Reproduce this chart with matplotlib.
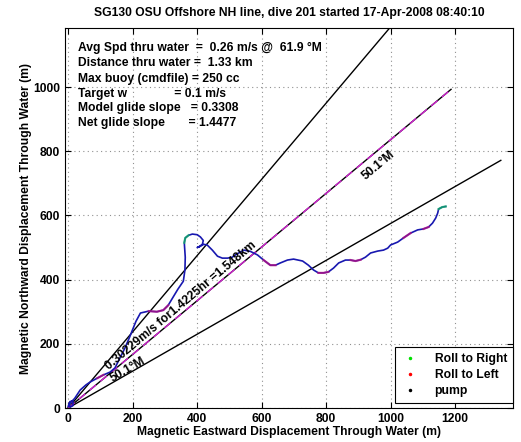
import numpy as np
import matplotlib
matplotlib.use("Agg")
import matplotlib.pyplot as plt
from matplotlib.lines import Line2D

plt.rcParams['font.family'] = ['Liberation Sans', 'DejaVu Sans']
plt.rcParams['font.weight'] = 'bold'
plt.rcParams['axes.labelweight'] = 'bold'
plt.rcParams['axes.titleweight'] = 'bold'

# dive summary
title = "SG130 OSU Offshore NH line, dive 201 started 17-Apr-2008 08:40:10"
info_lines = [
    "Avg Spd thru water  =  0.26 m/s @  61.9 \u00b0M",
    "Distance thru water =  1.33 km",
    "Max buoy (cmdfile) = 250 cc",
    "Target w              = 0.1 m/s",
    "Model glide slope   = 0.3308",
    "Net glide slope       = 1.4477",
]
heading = 50.1       # deg magnetic
spread = 10.0        # deg either side
speed = 0.30229      # m/s
hours = 1.4225
dist_km = 1.548

# track through water (m)
track_e = [0, 5, 14, 15, 6, 3, 20, 37, 55, 68, 90, 109, 130, 145, 155, 165, 175, 190,
           210, 224, 250, 275, 295, 310, 325, 340, 357, 362, 363, 361, 360, 363, 373,
           385, 400, 410, 419, 416, 405, 400, 408, 420, 431, 447, 463, 478, 494, 509,
           520, 545, 565, 587, 606, 627, 643, 658, 680, 699, 727, 745, 761, 776, 792,
           807, 823, 839, 860, 876, 891, 907, 922, 938, 960, 978, 991, 1000, 1022,
           1040, 1062, 1084, 1102, 1118, 1130, 1140, 1146, 1149, 1160, 1171]
track_n = [5, 20, 22, 8, 3, 12, 30, 56, 72, 81, 93, 103, 112, 125, 145, 165, 185, 220,
           270, 296, 302, 300, 305, 320, 345, 370, 395, 430, 470, 500, 515, 530, 538,
           542, 540, 533, 522, 510, 502, 500, 503, 510, 508, 492, 473, 467, 467, 470,
           478, 492, 488, 477, 461, 445, 445, 452, 461, 464, 458, 445, 430, 421, 421,
           424, 436, 452, 461, 461, 458, 462, 470, 483, 489, 492, 498, 508, 517,
           530, 545, 555, 558, 564, 576, 592, 607, 620, 626, 628]
roll_left = [(10, 11), (20, 23), (52, 54), (61, 63), (67, 69), (77, 78), (80, 81)]
roll_right = [(30, 32), (85, 87)]

fig = plt.figure(figsize=(5.21, 4.42), dpi=100)
ax = fig.add_axes([0.1248, 0.0769, 0.860, 0.8597])

dist_m = dist_km * 1000
for h in [heading - spread, heading + spread]:
    r = np.radians(h)
    ax.plot([0, dist_m * np.sin(r)], [0, dist_m * np.cos(r)], color='k', lw=1)
r = np.radians(heading)
ax.plot([0, dist_m * np.sin(r)], [0, dist_m * np.cos(r)], color='k', lw=1)
ax.plot([0, dist_m * np.sin(r)], [0, dist_m * np.cos(r)], color='#d020d0', lw=1,
        dashes=(6, 4))

te = np.array(track_e)
tn = np.array(track_n)
ax.plot(te, tn, color='#1818b0', lw=1.2)
for a, b in roll_left:
    ax.plot(te[a:b + 1], tn[a:b + 1], color='#c01080', lw=1.6, alpha=0.7)
for a, b in roll_right:
    ax.plot(te[a:b + 1], tn[a:b + 1], color='#10c060', lw=1.6, alpha=0.7)

# labels along lines
ax.text(963, 757, "%.1f\u00b0M" % heading, rotation=40, ha='center', va='center',
        fontsize=8.7)
ax.text(186, 118, "%.1f\u00b0M" % heading, rotation=30, ha='center', va='center',
        fontsize=8.7)
ax.text(350, 318, "%.5gm/s for%.4fhr =%.3fkm" % (speed, hours, dist_km), rotation=40,
        ha='center', va='center', fontsize=8.7)

ys = [0.947, 0.908, 0.866, 0.826, 0.789, 0.750]
for s, y in zip(info_lines, ys):
    ax.text(0.029, y, s, transform=ax.transAxes, ha='left', va='center', fontsize=8.7)

ax.set_xlim(-10, 1380)
ax.set_ylim(0, 1184)
ax.set_xticks(range(0, 1201, 200))
ax.set_yticks(range(0, 1001, 200))
ax.tick_params(direction='in', top=True, right=True, labelsize=8.7, length=4)
for lbl in ax.get_xticklabels() + ax.get_yticklabels():
    lbl.set_fontweight('bold')
ax.grid(True, linestyle=(0, (1, 3)), color='#909090', lw=0.8)
ax.set_title(title, fontsize=8.7, fontweight='bold', pad=9)
ax.set_xlabel("Magnetic Eastward Displacement Through Water (m)", fontsize=8.7,
              fontweight='bold', labelpad=1)
ax.set_ylabel("Magnetic Northward Displacement Through Water (m)", fontsize=8.7,
              fontweight='bold', labelpad=1)

handles = [Line2D([], [], ls='none', marker='.', ms=3, color=c) for c in ['#00e000', 'r', 'k']]
leg = ax.legend(handles, ["Roll to Right", "Roll to Left", "pump"], loc='lower right',
                bbox_to_anchor=(1.0, 0.012), fontsize=8.7, fancybox=False,
                edgecolor='k', framealpha=1, borderaxespad=0, handlelength=1.6,
                handletextpad=1.2, borderpad=0.5, labelspacing=0.35)
leg.get_frame().set_linewidth(0.8)
for t in leg.get_texts():
    t.set_fontweight('bold')

fig.savefig("out.png", dpi=100)
